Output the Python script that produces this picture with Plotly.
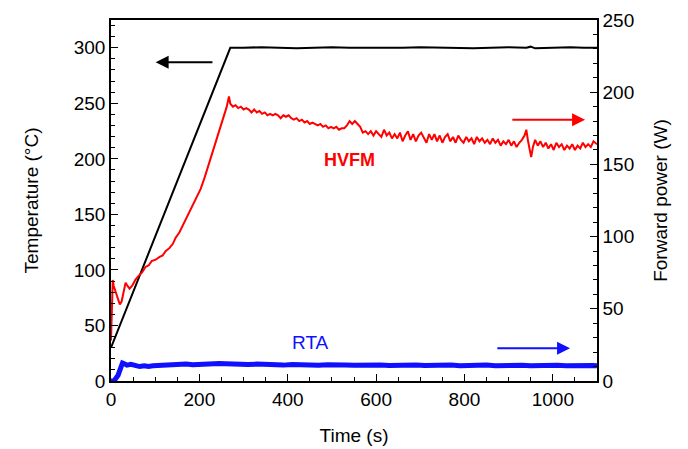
import plotly.graph_objects as go

# ---- Data ----
temp_time = [0, 30, 60, 90, 120, 150, 180, 210, 240, 270, 300, 340, 380, 420, 460, 500,
             540, 580, 620, 660, 700, 740, 780, 820, 860, 900, 940, 950, 960, 1000,
             1040, 1070, 1100]
temp_values = [30, 60, 90, 120, 150, 180, 210, 240, 270, 300, 300, 300.5, 300, 299.5, 300, 300.5,
               300, 300, 299.5, 300, 300.5, 300, 300, 299.5, 300, 300.5, 300, 301, 299.5, 300,
               300.5, 300, 300]

hvfm_time = [0, 2, 4, 6, 10, 15, 20, 24, 28, 33, 37, 42, 48, 55, 63, 70, 78, 85, 92, 101,
             110, 117, 124, 132, 140, 146, 155, 163, 170, 178, 186, 194, 203, 212, 222, 231,
             240, 248, 257, 262, 267,
             270, 276, 282, 288, 294, 300, 306, 312, 318, 324, 330, 336, 342, 348, 354, 360,
             366, 372, 378, 384, 390, 396, 402, 408, 414, 420, 426, 432, 438, 444, 450, 456,
             462, 468, 474, 480, 486, 492, 498, 504, 510, 516, 522, 528, 534, 540, 546, 552,
             558, 564, 570, 576, 582, 588, 594, 600, 606, 612, 618, 624, 630, 636, 642, 648,
             654, 660, 666, 672, 678, 684, 690, 696, 702, 708, 714, 720, 726, 732, 738, 744,
             750, 756, 762, 768, 774, 780, 786, 792, 798, 804, 810, 816, 822, 828, 834, 840,
             846, 852, 858, 864, 870, 876, 882, 888, 894, 900, 906, 912, 918, 924, 930, 936,
             940, 944, 948, 951, 955, 960, 966, 972, 978, 984, 990, 996, 1002, 1008, 1014,
             1020, 1026, 1032, 1038, 1044, 1050, 1056, 1062, 1068, 1074, 1080, 1086, 1092, 1100]
hvfm_power = [28, 45, 70, 66, 62, 57, 53, 55, 62, 68, 66, 64, 66, 70, 73, 75, 79, 80, 83, 84,
              86, 87, 90, 92, 95, 99, 103, 108, 112, 118, 122, 127, 133, 141, 151, 160,
              169, 176, 186, 190, 197,
              192, 190, 191, 189, 190, 188, 189, 188, 186, 188, 186, 187, 185, 186, 184, 185,
              184, 185, 184, 182, 184, 183, 184, 182, 181, 182, 180, 181, 179, 180, 178, 179,
              178, 177, 178, 176, 177, 175, 176, 175, 176, 174, 175, 175, 177, 180, 178, 180,
              178, 176, 172, 173, 171, 173, 170, 173, 171, 169, 174, 170, 172, 168, 171, 168,
              172, 166, 170, 173, 167, 171, 166, 170, 172, 168, 165, 171, 167, 171, 166, 170,
              165, 169, 171, 166, 169, 165, 170, 167, 165, 169, 166, 168, 164, 169, 166, 168,
              165, 167, 164, 168, 165, 167, 163, 166, 164, 167, 163, 166, 162, 165, 167, 170,
              174, 166, 160, 155, 162, 167, 163, 166, 162, 165, 161, 164, 160, 165, 162,
              164, 160, 163, 161, 164, 160, 163, 161, 165, 162, 164, 162, 166, 164]

rta_time = [0, 8, 16, 22, 26, 30, 36, 45, 55, 65, 75, 85, 95, 110, 125, 140, 155, 170, 185,
            200, 215, 230, 245, 260, 275, 290, 310, 330, 350, 370, 390, 410, 430, 450, 470,
            490, 510, 530, 550, 570, 590, 610, 630, 650, 670, 690, 710, 730, 750, 770, 790,
            810, 830, 850, 870, 890, 910, 930, 950, 970, 990, 1010, 1030, 1050, 1070, 1090, 1100]
rta_power = [0, 0.5, 4, 9, 12.5, 12, 11, 11.5, 10.5, 10, 10.5, 10, 10.5, 10.8, 11, 11.5, 11, 11.8, 11.2,
             11.5, 12, 11.6, 12.2, 12, 11.6, 11.8, 11.4, 11.7, 11.2, 11.5, 11, 11.4, 11, 11.3, 10.9,
             11.2, 10.8, 11.1, 10.9, 11.2, 10.8, 11, 10.7, 11, 10.8, 11.1, 10.7, 11, 10.8, 11, 10.6,
             10.9, 10.7, 11, 10.6, 10.9, 10.6, 10.9, 10.5, 10.8, 10.6, 10.9, 10.5, 10.8, 10.6, 10.8, 10.6]

x_range = [0, 1100]
temp_range = [0, 325]
power_range = [0, 250]

FONT = "Liberation Sans, Arial, sans-serif"

fig = go.Figure()
fig.add_trace(go.Scatter(x=rta_time, y=rta_power, yaxis="y2", mode="lines",
                         line=dict(color="#1010ff", width=5), showlegend=False))
fig.add_trace(go.Scatter(x=hvfm_time, y=hvfm_power, yaxis="y2", mode="lines",
                         line=dict(color="#ff0000", width=2), showlegend=False))
fig.add_trace(go.Scatter(x=temp_time, y=temp_values, yaxis="y", mode="lines",
                         line=dict(color="black", width=2), showlegend=False))

axis_common = dict(showline=True, linecolor="black", linewidth=1.5, ticks="inside",
                   ticklen=7, tickwidth=1.2, tickcolor="black", showgrid=False, zeroline=False,
                   tickfont=dict(family=FONT, size=19, color="black"))

# the page body adds an 8px offset, so the figure is 8px smaller and margins shifted
fig.update_layout(
    width=680, height=441,
    margin=dict(l=103, r=91, t=12, b=68, autoexpand=False),
    paper_bgcolor="white", plot_bgcolor="white",
    font=dict(family=FONT, size=19, color="black"),
    xaxis=dict(range=x_range, dtick=200, mirror=True,
               minor=dict(ticks="inside", dtick=50, ticklen=4, tickcolor="black"),
               title=dict(text="Time (s)", font=dict(size=19), standoff=20),
               **axis_common),
    yaxis=dict(range=temp_range, dtick=50,
               minor=dict(ticks="inside", dtick=10, ticklen=4, tickcolor="black"),
               title=dict(text="Temperature (°C)", font=dict(size=19), standoff=30),
               **axis_common),
    yaxis2=dict(range=power_range, dtick=50, overlaying="y", side="right",
                minor=dict(ticks="inside", dtick=10, ticklen=4, tickcolor="black"),
                title=dict(text="Forward power (W)", font=dict(size=19), standoff=20),
                **axis_common),
)

# arrows
fig.add_annotation(x=101, y=287, xref="x", yref="y", ax=233, ay=287, axref="x", ayref="y",
                   text="", showarrow=True, arrowhead=2, arrowsize=1.3, arrowwidth=2,
                   arrowcolor="black")
fig.add_annotation(x=1073, y=181, xref="x", yref="y2", ax=905, ay=181, axref="x", ayref="y2",
                   text="", showarrow=True, arrowhead=2, arrowsize=1.3, arrowwidth=2,
                   arrowcolor="#ff0000")
fig.add_annotation(x=1039, y=22.6, xref="x", yref="y2", ax=871, ay=22.6, axref="x", ayref="y2",
                   text="", showarrow=True, arrowhead=2, arrowsize=1.3, arrowwidth=2,
                   arrowcolor="#1010ff")

# labels
fig.add_annotation(x=540, y=199, xref="x", yref="y", text="<b>HVFM</b>", showarrow=False,
                   font=dict(family=FONT, size=18, color="#ff0000"))
fig.add_annotation(x=451, y=35, xref="x", yref="y", text="RTA", showarrow=False,
                   font=dict(family=FONT, size=19, color="#1010ff"))

fig.write_html("out.html")
